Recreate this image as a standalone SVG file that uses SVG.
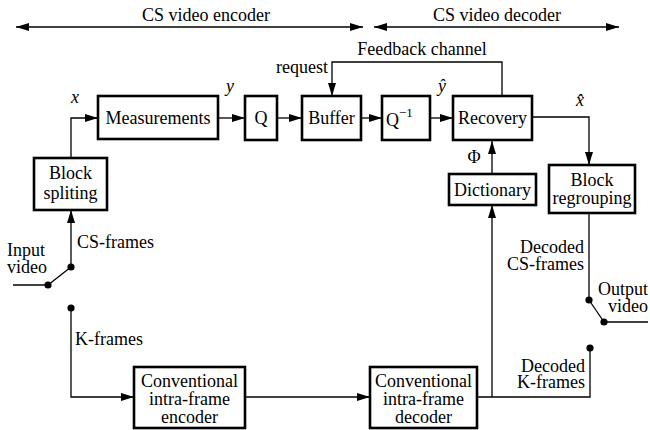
<svg xmlns="http://www.w3.org/2000/svg" width="650" height="430" viewBox="0 0 650 430">
<defs>
<marker id="ah" markerUnits="userSpaceOnUse" markerWidth="14" markerHeight="8" refX="13" refY="4" orient="auto">
<path d="M0,0 L13,4 L0,8 z" fill="#000"/>
</marker>
<marker id="ahs" markerUnits="userSpaceOnUse" markerWidth="14" markerHeight="8" refX="13" refY="4" orient="auto-start-reverse">
<path d="M0,0 L13,4 L0,8 z" fill="#000"/>
</marker>
</defs>
<style>
text{font-family:'Liberation Serif','Times New Roman','DejaVu Serif',serif;font-size:18px;fill:#000}
.c{text-anchor:middle}
.e{text-anchor:end}
.m{font-style:italic}
.box{fill:#fff;stroke:#000;stroke-width:2.6}
.ln{fill:none;stroke:#000;stroke-width:1.3}
.ar{fill:none;stroke:#000;stroke-width:1.3;marker-end:url(#ah)}
.dot{fill:#000}
</style>

<g id="headers">
<text class="c" x="206" y="21">CS video encoder</text>
<text class="c" x="497" y="21">CS video decoder</text>
<line x1="16" y1="27" x2="363" y2="27" stroke="#000" stroke-width="1.5" marker-start="url(#ahs)" marker-end="url(#ahs)"/>
<line x1="374" y1="27" x2="619" y2="27" stroke="#000" stroke-width="1.5" marker-start="url(#ahs)" marker-end="url(#ahs)"/>
</g>

<g id="connectors">
<polyline class="ar" points="71,158 71,118 98,118"/>
<line class="ar" x1="218" y1="118" x2="245" y2="118"/>
<line class="ar" x1="277" y1="118" x2="302" y2="118"/>
<line class="ar" x1="361" y1="118" x2="382" y2="118"/>
<line class="ar" x1="430" y1="118" x2="453" y2="118"/>
<polyline class="ar" points="532,117 589,117 589,165"/>
<polyline class="ar" points="502,96 502,62 332,62 332,96"/>
<line class="ar" x1="492" y1="174" x2="492" y2="141"/>
<line class="ar" x1="492" y1="397" x2="492" y2="205"/>
<line class="ln" x1="13" y1="285" x2="48" y2="285"/>
<line class="ln" x1="48" y1="285" x2="71" y2="267"/>
<line class="ar" x1="71" y1="267" x2="71" y2="210"/>
<polyline class="ar" points="71,308 71,397 134,397"/>
<line class="ar" x1="245" y1="397" x2="370" y2="397"/>
<polyline class="ln" points="477,397 590,397 590,348"/>
<line class="ln" x1="589" y1="213" x2="589" y2="300"/>
<line class="ln" x1="589" y1="300" x2="604" y2="322"/>
<line class="ln" x1="604" y1="322" x2="648" y2="322"/>
<circle class="dot" cx="71" cy="267" r="3.6"/>
<circle class="dot" cx="48" cy="285" r="3.6"/>
<circle class="dot" cx="71" cy="308" r="3.6"/>
<circle class="dot" cx="589" cy="300" r="3.6"/>
<circle class="dot" cx="604" cy="322" r="3.6"/>
<circle class="dot" cx="590" cy="348" r="3.6"/>
</g>

<g id="labels">
<text class="c" x="422" y="55">Feedback channel</text>
<text class="e" x="328" y="73">request</text>
<text class="c m" x="75" y="103">x</text>
<text class="c m" x="230" y="92">y</text>
<text class="c m" x="442" y="92">ŷ</text>
<text class="c m" x="580" y="106">x̂</text>
<text class="c" x="474" y="163">Φ</text>
<text x="77" y="248">CS-frames</text>
<text x="7" y="256">Input</text>
<text x="7" y="273">video</text>
<text x="75" y="345">K-frames</text>
<text class="e" x="584" y="253">Decoded</text>
<text class="e" x="584" y="270">CS-frames</text>
<text class="e" x="648" y="295">Output</text>
<text class="e" x="648" y="312">video</text>
<text class="e" x="585" y="372">Decoded</text>
<text class="e" x="585" y="388">K-frames</text>
</g>

<g id="measurements">
<rect class="box" x="98" y="96" width="120" height="43"/>
<text class="c" x="158" y="124">Measurements</text>
</g>
<g id="q">
<rect class="box" x="245" y="96" width="32" height="44"/>
<text class="c" x="261" y="124">Q</text>
</g>
<g id="buffer">
<rect class="box" x="302" y="96" width="59" height="44"/>
<text class="c" x="331.5" y="124">Buffer</text>
</g>
<g id="qinv">
<rect class="box" x="382" y="96" width="48" height="44"/>
<text x="386" y="126">Q<tspan dy="-9" style="font-size:13px">−1</tspan></text>
</g>
<g id="recovery">
<rect class="box" x="453" y="96" width="79" height="44"/>
<text class="c" x="492.5" y="124">Recovery</text>
</g>
<g id="block-spliting">
<rect class="box" x="34" y="158" width="73" height="52"/>
<text class="c" x="70.5" y="179">Block</text>
<text class="c" x="70.5" y="199">spliting</text>
</g>
<g id="dictionary">
<rect class="box" x="449" y="174" width="87" height="31"/>
<text class="c" x="492.5" y="196">Dictionary</text>
</g>
<g id="block-regrouping">
<rect class="box" x="549" y="165" width="86" height="48"/>
<text class="c" x="592" y="186">Block</text>
<text class="c" x="592" y="204">regrouping</text>
</g>
<g id="encoder">
<rect class="box" x="134" y="367" width="111" height="61"/>
<text class="c" x="189.5" y="387">Conventional</text>
<text class="c" x="189.5" y="405">intra-frame</text>
<text class="c" x="189.5" y="423">encoder</text>
</g>
<g id="decoder">
<rect class="box" x="370" y="367" width="107" height="61"/>
<text class="c" x="423.5" y="387">Conventional</text>
<text class="c" x="423.5" y="405">intra-frame</text>
<text class="c" x="423.5" y="423">decoder</text>
</g>
</svg>
